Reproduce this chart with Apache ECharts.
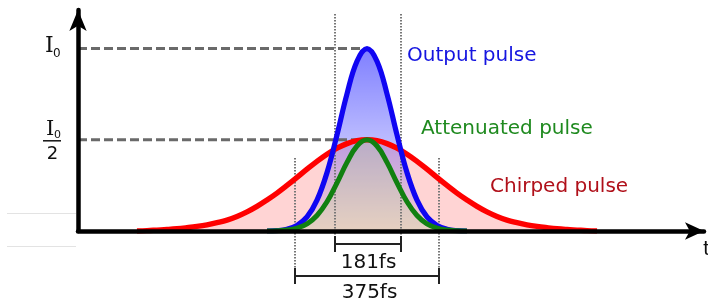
<!DOCTYPE html>
<html><head><meta charset="utf-8">
<script src="https://cdn.jsdelivr.net/npm/echarts@6/dist/echarts.min.js"></script>
<style>html,body{margin:0;padding:0;background:#fff}#c{width:708px;height:304px}</style>
</head><body><div id="c"></div>
<script>
// time axis (fs), pulses centred at 0
const timeFs = [-650,-625,-600,-575,-550,-525,-500,-475,-450,-425,-400,-375,-350,-325,-300,-275,-250,-225,-200,-175,-150,-125,-100,-75,-50,-25,0,25,50,75,100,125,150,175,200,225,250,275,300,325,350,375,400,425,450,475,500,525,550,575,600,625,650];
// intensities relative to I0
const outputPulse = [0,0,0,0,0,0,0,0,0,0,0,0,0,0,0,0,0,0.002,0.010,0.031,0.077,0.169,0.320,0.527,0.752,0.931,1.000,0.931,0.752,0.527,0.320,0.169,0.077,0.031,0.010,0.002,0,0,0,0,0,0,0,0,0,0,0,0,0,0,0,0,0];
const attenuatedPulse = [0,0,0,0,0,0,0,0,0,0,0,0,0,0,0,0,0,0.001,0.005,0.016,0.039,0.085,0.160,0.264,0.376,0.466,0.500,0.466,0.376,0.264,0.160,0.085,0.039,0.016,0.005,0.001,0,0,0,0,0,0,0,0,0,0,0,0,0,0,0,0,0];
const chirpedPulse = [0,0,0,0,0.002,0.005,0.008,0.012,0.018,0.025,0.034,0.046,0.060,0.080,0.105,0.135,0.170,0.208,0.250,0.294,0.339,0.382,0.421,0.454,0.479,0.495,0.500,0.495,0.479,0.454,0.421,0.382,0.339,0.294,0.250,0.208,0.170,0.135,0.105,0.080,0.060,0.046,0.034,0.025,0.018,0.012,0.008,0.005,0.002,0,0,0,0];
// reference levels (I0 and I0/2)
const refLevels = [1, 0.5];
const peakTime = 0;
// FWHM marker times (fs)
const innerMarkT = [-80, 85];
const outerMarkT = [-180, 180];
const innerLabel = '181fs';
const outerLabel = '375fs';

const X_MIN = -722.5, X_MAX = 842.5, Y_MAX = 1.2116;
// keep only the visible (non-zero) stretch of each pulse, plus one zero at each end
const pair = (arr) => timeFs.map((t, i) => [t, arr[i]])
  .filter((p, i) => arr[i] > 0 || (arr[i - 1] > 0) || (arr[i + 1] > 0));

const chart = echarts.init(document.getElementById('c'), null, {renderer: 'canvas'});
const series = [];
function areaS(data, color) {
  series.push({type: 'line', data: pair(data), smooth: 0.4, showSymbol: false, silent: true,
    lineStyle: {width: 0}, areaStyle: {color: color, opacity: 1}});
}
function lineS(data, color, w) {
  series.push({type: 'line', data: pair(data), smooth: 0.4, showSymbol: false, silent: true,
    lineStyle: {width: w, color: color}});
}
function seg(p1, p2, style) {
  series.push({type: 'line', data: [p1, p2], showSymbol: false, silent: true, clip: false, lineStyle: style});
}
areaS(chirpedPulse, 'rgba(255,0,0,0.17)');
areaS(outputPulse, new echarts.graphic.LinearGradient(0, 0, 0, 1, [
  {offset: 0, color: 'rgba(0,0,255,0.50)'}, {offset: 1, color: 'rgba(0,0,255,0.03)'}]));
areaS(attenuatedPulse, 'rgba(180,220,130,0.25)');
refLevels.forEach(l => seg([X_MIN, l], [peakTime, l], {color: '#6a6a6a', width: 3, type: [9, 4]}));
const dotted = {color: '#777', width: 2, type: [1.5, 1.5]};
innerMarkT.forEach(t => seg([t, 1.19], [t, -0.027], dotted));
outerMarkT.forEach(t => seg([t, 0.40], [t, -0.203], dotted));
lineS(chirpedPulse, '#ff0000', 5.4);
lineS(outputPulse, '#1005f2', 5.2);
lineS(attenuatedPulse, '#118011', 5);
const br = {color: '#222', width: 2, type: 'solid'};
seg([innerMarkT[0], -0.071], [innerMarkT[1], -0.071], br);
innerMarkT.forEach(t => seg([t, -0.027], [t, -0.115], br));
seg([outerMarkT[0], -0.247], [outerMarkT[1], -0.247], br);
outerMarkT.forEach(t => seg([t, -0.203], [t, -0.291], br));

const F = 'DejaVu Sans';
const txt = (x, y, text, size, color, family, align) => ({type: 'text', x: x, y: y, z: 100, silent: true,
  style: {text: text, font: size + 'px "' + (family || F) + '"', fill: color || '#111', align: align || 'left', verticalAlign: 'middle'}});

chart.setOption({
  animation: false,
  backgroundColor: '#fff',
  grid: {left: 78, right: 4, top: 10, bottom: 73},
  xAxis: {type: 'value', min: X_MIN, max: X_MAX, z: 10,
    axisLine: {show: true, onZero: false, symbol: ['none', 'arrow'], symbolSize: [13, 19], lineStyle: {color: '#000', width: 4.5}},
    axisTick: {show: false}, axisLabel: {show: false}, splitLine: {show: false}},
  yAxis: {type: 'value', min: 0, max: Y_MAX, z: 10,
    axisLine: {show: true, onZero: false, symbol: ['none', 'arrow'], symbolSize: [13, 21], lineStyle: {color: '#000', width: 4.5}},
    axisTick: {show: false}, axisLabel: {show: false}, splitLine: {show: false}},
  series: series,
  graphic: [
    {type: 'line', silent: true, shape: {x1: 7, y1: 213.5, x2: 76, y2: 213.5}, style: {stroke: '#e3e3e3', lineWidth: 1}},
    {type: 'line', silent: true, shape: {x1: 7, y1: 246.5, x2: 76, y2: 246.5}, style: {stroke: '#e3e3e3', lineWidth: 1}},
    txt(45, 46, 'I', 22, '#111', 'DejaVu Serif'),
    txt(53, 54, '0', 12, '#111'),
    txt(46, 129.5, 'I', 21, '#111', 'DejaVu Serif'),
    txt(54, 135, '0', 11, '#111'),
    {type: 'line', silent: true, shape: {x1: 43, y1: 140.8, x2: 61, y2: 140.8}, style: {stroke: '#111', lineWidth: 1.5}},
    txt(52.5, 154, '2', 18, '#111', null, 'center'),
    txt(407, 56, 'Output pulse', 20, '#1515e0'),
    txt(421, 128.5, 'Attenuated pulse', 20, '#1f8a1f'),
    txt(490, 187, 'Chirped pulse', 20, '#b0101a'),
    txt(368.5, 262.5, innerLabel, 20, '#111', null, 'center'),
    txt(369.5, 293, outerLabel, 20, '#111', null, 'center'),
    txt(703, 250, 't', 20, '#111')
  ]
});
</script></body></html>
